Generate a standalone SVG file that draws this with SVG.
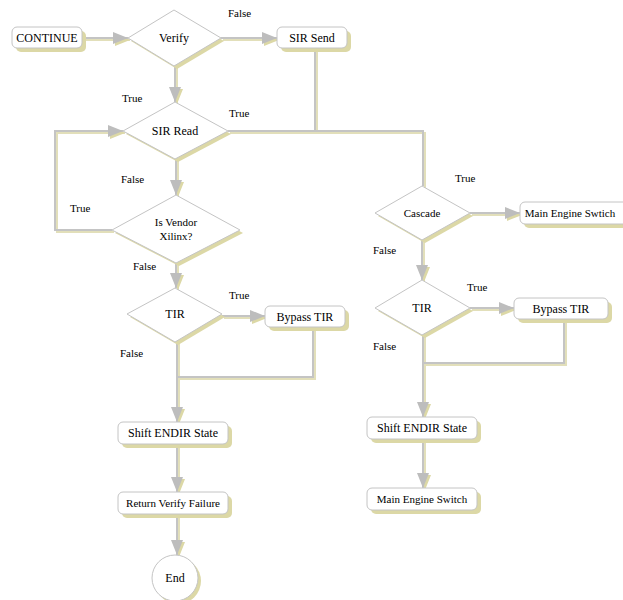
<svg xmlns="http://www.w3.org/2000/svg" xmlns:xlink="http://www.w3.org/1999/xlink" width="623" height="600" viewBox="0 0 623 600" font-family="'Liberation Serif', 'Times New Roman', serif">
<style>
text{font-family:'Liberation Serif','Times New Roman','DejaVu Serif',serif;font-size:12px;fill:#000}
.s{font-size:11px}
.box{fill:#fff;stroke:#c4c4c4;stroke-width:1}
.sh{fill:#dcd8a6;stroke:none}
.ln{fill:none;stroke:#c4c4c4;stroke-width:2}
.lns{fill:none;stroke:#e2dfba;stroke-width:2}
.a{marker-end:url(#ah)}
.as{marker-end:url(#ahs)}
</style>
<defs>
<marker id="ah" markerUnits="userSpaceOnUse" markerWidth="16" markerHeight="14" refX="15" refY="7" orient="auto">
<path d="M0,1 L15,7 L0,13 z" fill="#bdbdbd"/>
</marker>
<marker id="ahs" markerUnits="userSpaceOnUse" markerWidth="16" markerHeight="14" refX="15" refY="7" orient="auto">
<path d="M0,1 L15,7 L0,13 z" fill="#dcd8a6"/>
</marker>
<path id="c1" d="M82,38 H128"/>
<path id="c2" d="M221,38 H277"/>
<path id="c3" d="M175,65 V102"/>
<path id="c4" d="M228,131 H423 V186"/>
<path id="c5" d="M315,48 V131"/>
<path id="c6" d="M112,230 H55 V131 H123"/>
<path id="c7" d="M176,158 V195"/>
<path id="c8" d="M176,262 V288"/>
<path id="c9" d="M222,316 H265"/>
<path id="c10" d="M177,341 V422"/>
<path id="c11" d="M313,328 V377 H177"/>
<path id="c12" d="M177,445 V492"/>
<path id="c13" d="M177,514 V555"/>
<path id="c14" d="M470,213 H520"/>
<path id="c15" d="M422,240 V280"/>
<path id="c16" d="M470,308 H514"/>
<path id="c17" d="M423,335 V417"/>
<path id="c18" d="M564,320 V363 H423"/>
<path id="c19" d="M423,440 V488"/>
</defs>
<rect width="623" height="600" fill="#fff"/>
<g id="connectors">
<g transform="translate(2,2)">
<use xlink:href="#c1" class="lns as"/><use xlink:href="#c2" class="lns as"/><use xlink:href="#c3" class="lns as"/>
<use xlink:href="#c4" class="lns"/><use xlink:href="#c5" class="lns"/><use xlink:href="#c6" class="lns as"/>
<use xlink:href="#c7" class="lns as"/><use xlink:href="#c8" class="lns as"/><use xlink:href="#c9" class="lns as"/>
<use xlink:href="#c10" class="lns as"/><use xlink:href="#c11" class="lns"/><use xlink:href="#c12" class="lns as"/>
<use xlink:href="#c13" class="lns as"/><use xlink:href="#c14" class="lns as"/><use xlink:href="#c15" class="lns as"/>
<use xlink:href="#c16" class="lns as"/><use xlink:href="#c17" class="lns as"/><use xlink:href="#c18" class="lns"/>
<use xlink:href="#c19" class="lns as"/>
</g>
<use xlink:href="#c1" class="ln a"/><use xlink:href="#c2" class="ln a"/><use xlink:href="#c3" class="ln a"/>
<use xlink:href="#c4" class="ln"/><use xlink:href="#c5" class="ln"/><use xlink:href="#c6" class="ln a"/>
<use xlink:href="#c7" class="ln a"/><use xlink:href="#c8" class="ln a"/><use xlink:href="#c9" class="ln a"/>
<use xlink:href="#c10" class="ln a"/><use xlink:href="#c11" class="ln"/><use xlink:href="#c12" class="ln a"/>
<use xlink:href="#c13" class="ln a"/><use xlink:href="#c14" class="ln a"/><use xlink:href="#c15" class="ln a"/>
<use xlink:href="#c16" class="ln a"/><use xlink:href="#c17" class="ln a"/><use xlink:href="#c18" class="ln"/>
<use xlink:href="#c19" class="ln a"/>
</g>
<g id="continue">
<rect class="sh" x="16" y="31" width="70" height="21" rx="5"/>
<rect class="box" x="12" y="27" width="70" height="21" rx="5"/>
<text x="47" y="42" text-anchor="middle">CONTINUE</text>
</g>
<g id="verify">
<polygon class="sh" points="177,13 224,41 177,69 131,41"/>
<polygon class="box" points="174,10 221,38 174,66 128,38"/>
<text x="174" y="42" text-anchor="middle">Verify</text>
</g>
<g id="sir-send">
<rect class="sh" x="281" y="31" width="70" height="21" rx="5"/>
<rect class="box" x="277" y="27" width="70" height="21" rx="5"/>
<text x="312" y="42" text-anchor="middle">SIR Send</text>
</g>
<g id="sir-read">
<polygon class="sh" points="178,105 231,134 178,162 126,134"/>
<polygon class="box" points="175,102 228,131 175,159 123,131"/>
<text x="175" y="135" text-anchor="middle">SIR Read</text>
</g>
<g id="vendor">
<polygon class="sh" points="179,198 243,233 179,266 115,233"/>
<polygon class="box" points="176,195 240,230 176,263 112,230"/>
<text class="s" x="176" y="226" text-anchor="middle">Is Vendor</text>
<text class="s" x="176" y="240" text-anchor="middle">Xilinx?</text>
</g>
<g id="tir1">
<polygon class="sh" points="178,291 225,317 178,345 130,317"/>
<polygon class="box" points="175,288 222,314 175,342 127,314"/>
<text x="175" y="318" text-anchor="middle">TIR</text>
</g>
<g id="bypass1">
<rect class="sh" x="269" y="310" width="80" height="21" rx="5"/>
<rect class="box" x="265" y="306" width="80" height="21" rx="5"/>
<text x="305" y="321" text-anchor="middle">Bypass TIR</text>
</g>
<g id="shift1">
<rect class="sh" x="122" y="426" width="110" height="22" rx="5"/>
<rect class="box" x="118" y="422" width="110" height="22" rx="5"/>
<text x="173" y="437" text-anchor="middle">Shift ENDIR State</text>
</g>
<g id="return">
<rect class="sh" x="122" y="496" width="110" height="22" rx="5"/>
<rect class="box" x="118" y="492" width="110" height="22" rx="5"/>
<text class="s" x="173" y="507" text-anchor="middle">Return Verify Failure</text>
</g>
<g id="end">
<circle class="sh" cx="178" cy="581" r="23"/>
<circle class="box" cx="175" cy="578" r="23"/>
<text x="175" y="582" text-anchor="middle">End</text>
</g>
<g id="cascade">
<polygon class="sh" points="425,189 473,216 425,243 378,216"/>
<polygon class="box" points="422,186 470,213 422,240 375,213"/>
<text class="s" x="422" y="217" text-anchor="middle">Cascade</text>
</g>
<g id="main1">
<rect class="sh" x="524" y="206" width="110" height="22" rx="5"/>
<rect class="box" x="520" y="202" width="110" height="22" rx="5"/>
<text class="s" x="570" y="217" text-anchor="middle">Main Engine Swtich</text>
</g>
<g id="tir2">
<polygon class="sh" points="425,283 473,311 425,338 378,311"/>
<polygon class="box" points="422,280 470,308 422,335 375,308"/>
<text x="422" y="312" text-anchor="middle">TIR</text>
</g>
<g id="bypass2">
<rect class="sh" x="518" y="302" width="94" height="21" rx="5"/>
<rect class="box" x="514" y="298" width="94" height="21" rx="5"/>
<text x="561" y="313" text-anchor="middle">Bypass TIR</text>
</g>
<g id="shift2">
<rect class="sh" x="371" y="421" width="110" height="22" rx="5"/>
<rect class="box" x="367" y="417" width="110" height="22" rx="5"/>
<text x="422" y="432" text-anchor="middle">Shift ENDIR State</text>
</g>
<g id="main2">
<rect class="sh" x="371" y="492" width="110" height="22" rx="5"/>
<rect class="box" x="367" y="488" width="110" height="22" rx="5"/>
<text class="s" x="422" y="503" text-anchor="middle">Main Engine Switch</text>
</g>
<g id="labels">
<text class="s" x="228" y="17">False</text>
<text class="s" x="122" y="102">True</text>
<text class="s" x="229" y="117">True</text>
<text class="s" x="121" y="183">False</text>
<text class="s" x="70" y="212">True</text>
<text class="s" x="133" y="270">False</text>
<text class="s" x="229" y="299">True</text>
<text class="s" x="120" y="357">False</text>
<text class="s" x="455" y="182">True</text>
<text class="s" x="373" y="254">False</text>
<text class="s" x="467" y="291">True</text>
<text class="s" x="373" y="350">False</text>
</g>
</svg>
